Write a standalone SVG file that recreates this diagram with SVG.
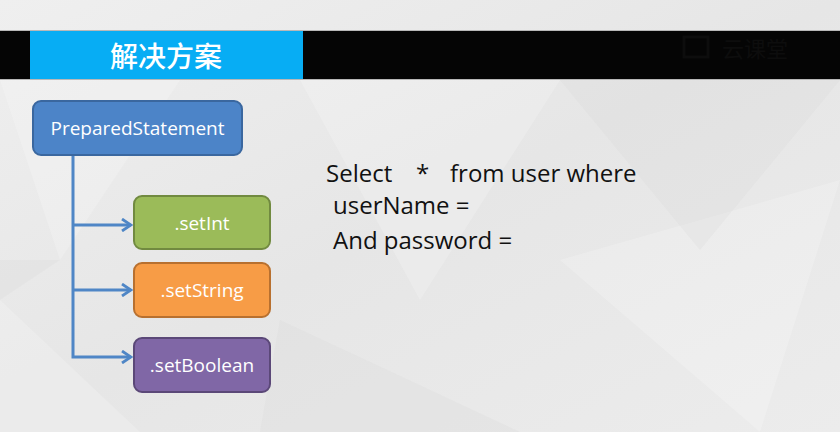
<svg xmlns="http://www.w3.org/2000/svg" width="840" height="432" viewBox="0 0 840 432">
<defs>
<style>
.box{stroke-width:2}
.lbl{font-family:"Open Sans","Noto Sans",sans-serif;font-size:19px;fill:#ffffff;text-anchor:middle}
.conn{fill:none;stroke:#4f86c6;stroke-width:3}
.sql{font-family:"Open Sans","Noto Sans",sans-serif;font-size:24px;fill:#111111}
</style>
<marker id="arr" viewBox="0 0 14 14" refX="12" refY="7" markerWidth="14" markerHeight="14" markerUnits="userSpaceOnUse" orient="auto">
<path d="M3,1 L12,7 L3,13" fill="none" stroke="#4f86c6" stroke-width="2.8"/>
</marker>
<linearGradient id="bg" x1="0" y1="0" x2="1" y2="1">
<stop offset="0" stop-color="#efefef"/>
<stop offset="0.5" stop-color="#e6e6e6"/>
<stop offset="1" stop-color="#ececec"/>
</linearGradient>
</defs>
<rect width="840" height="432" fill="url(#bg)"/>
<g fill="#ffffff" opacity="0.2">
<polygon points="0,80 180,80 60,260"/>
<polygon points="300,80 560,80 420,300"/>
<polygon points="560,260 840,180 760,432"/>
<polygon points="0,300 140,432 0,432"/>
</g>
<g fill="#d6d6d6" opacity="0.25">
<polygon points="560,80 840,80 700,250"/>
<polygon points="0,260 60,260 0,300"/>
<polygon points="280,320 520,432 260,432"/>
</g>
<g id="header">
<rect x="0" y="30" width="840" height="50" fill="#b8b8b8"/>
<rect x="0" y="31" width="840" height="48" fill="#050505"/>
<rect x="30" y="31" width="273" height="48" fill="#07adf4"/>
<text x="166" y="67" font-family="'Noto Sans CJK SC',sans-serif" font-size="28" font-weight="500" fill="#ffffff" text-anchor="middle">解决方案</text>
<rect x="684" y="37" width="24" height="20" fill="none" stroke="#0d0d0d" stroke-width="3"/>
<text x="755" y="57" font-family="'Noto Sans CJK SC',sans-serif" font-size="22" fill="#0d0d0d" text-anchor="middle">云课堂</text>
</g>
<g id="connectors">
<path class="conn" d="M73,155 V357 H131" marker-end="url(#arr)"/>
<path class="conn" d="M73,225 H131" marker-end="url(#arr)"/>
<path class="conn" d="M73,290 H131" marker-end="url(#arr)"/>
</g>
<g id="prepared">
<rect class="box" x="33" y="101" width="209" height="54" rx="8" fill="#4c84c8" stroke="#3a679f"/>
<text class="lbl" x="137.5" y="135">PreparedStatement</text>
</g>
<g id="setInt">
<rect class="box" x="134" y="196" width="136" height="53" rx="8" fill="#9bbb59" stroke="#718a40"/>
<text class="lbl" x="202" y="230">.setInt</text>
</g>
<g id="setString">
<rect class="box" x="134" y="263" width="136" height="54" rx="8" fill="#f79c46" stroke="#b8702f"/>
<text class="lbl" x="202" y="297">.setString</text>
</g>
<g id="setBoolean">
<rect class="box" x="134" y="338" width="136" height="54" rx="8" fill="#8067a6" stroke="#5b4878"/>
<text class="lbl" x="202" y="372">.setBoolean</text>
</g>
<g id="sql">
<text class="sql" x="326" y="182">Select</text>
<text class="sql" x="416" y="182">*</text>
<text class="sql" x="450" y="182">from user where</text>
<text class="sql" x="333" y="214">userName =</text>
<text class="sql" x="333" y="249">And password =</text>
</g>
</svg>
